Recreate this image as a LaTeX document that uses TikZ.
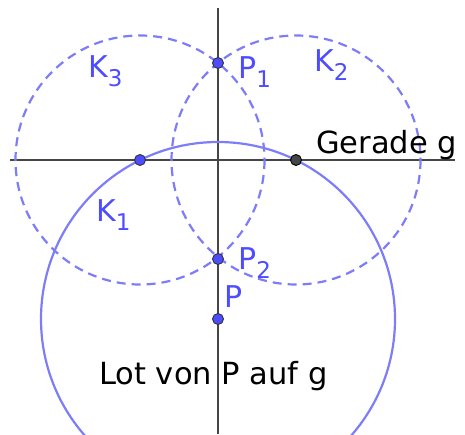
\documentclass[tikz,border=0pt]{standalone}
\usepackage{fontspec}
\setmainfont{DejaVu Sans}
\definecolor{geoblue}{RGB}{77,77,255}
\definecolor{circblue}{RGB}{125,125,250}
\definecolor{axisgray}{RGB}{70,70,70}
\begin{document}
\begin{tikzpicture}[x=1pt,y=-1pt,
  axis/.style={draw=axisgray,line width=2.2pt},
  solidcirc/.style={draw=circblue,line width=2.2pt},
  dashcirc/.style={draw=circblue,line width=2.2pt,dash pattern=on 9pt off 6pt},
  bluept/.style={circle,fill=geoblue,draw=black!80,line width=0.9pt,inner sep=0pt,minimum size=11pt},
  graypt/.style={circle,fill=axisgray,draw=black,line width=0.9pt,inner sep=0pt,minimum size=11pt},
  bluelbl/.style={text=geoblue,anchor=base west,inner sep=0pt,font=\fontsize{30}{30}\selectfont},
  blacklbl/.style={text=black,anchor=base west,inner sep=0pt,font=\fontsize{30.5}{30.5}\selectfont}
]
\useasboundingbox (0,0) rectangle (465,434);
% axes
\coordinate (gl) at (10,160);
\coordinate (gr) at (455,160);
\coordinate (vt) at (218,8);
\coordinate (vb) at (218,434);
\draw[axis] (gl) -- (gr);
\draw[axis] (vt) -- (vb);
% circles
\draw[solidcirc] (218,319) circle (177);
\draw[dashcirc] (140,160) circle (124.5);
\draw[dashcirc] (296,160) circle (124.5);
% points
\node[bluept] (P1) at (218,63) {};
\node[bluept] (P2) at (218,259) {};
\node[bluept] (P) at (218,319) {};
\node[bluept] (A) at (140,160) {};
\node[graypt] (B) at (296,160) {};
% labels
\newcommand{\lblsub}[1]{\raisebox{-0.3em}{\fontsize{23}{23}\selectfont #1}}
\node[bluelbl] (k3) at (88,77) {K\lblsub{3}};
\node[bluelbl] (k2) at (314,71) {K\lblsub{2}};
\node[bluelbl] (k1) at (96,221) {K\lblsub{1}};
\node[bluelbl] (p1) at (238,78) {P\lblsub{1}};
\node[bluelbl] (p2) at (238,269) {P\lblsub{2}};
\node[bluelbl] (pl) at (224,307) {P};
\node[blacklbl] (gg) at (316,153) {Gerade g};
\node[blacklbl] (lot) at (99,384) {Lot von P auf g};
\end{tikzpicture}
\end{document}
